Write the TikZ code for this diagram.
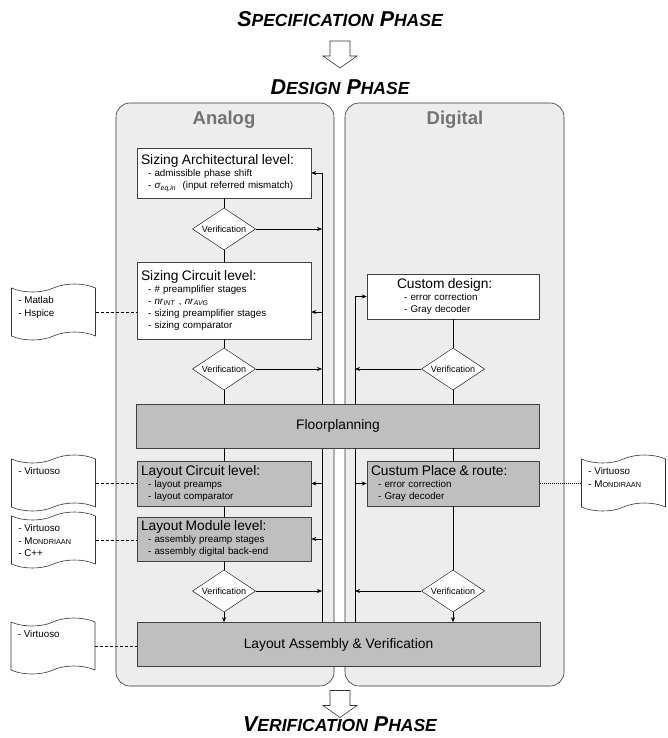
\documentclass[tikz,border=0pt]{standalone}
\usepackage{fontspec}
\setmainfont{Liberation Sans}
\usetikzlibrary{shapes.geometric,shapes.symbols,arrows.meta,positioning}

\newcommand{\hdr}{\fontsize{13.8}{15}\selectfont}
\newcommand{\itm}[1]{\hspace*{7pt}- #1}
\newcommand{\scsz}{\fontsize{17.5}{20}\selectfont}
\newcommand{\docsc}{\fontsize{7.3}{9}\selectfont}
\newcommand{\drawPhaseArrow}[2]{
    \draw[line width=0.6pt, draw=black!80, fill=white] (#1-10,#2-13.5) -- (#1+10,#2-13.5) -- (#1+10,#2+1.5) -- (#1+17,#2+1.5)
        -- (#1,#2+13.5) -- (#1-17,#2+1.5) -- (#1-10,#2+1.5) -- cycle;
}

\pgfdeclarelayer{panels}
\pgfdeclarelayer{wires}
\pgfsetlayers{panels,wires,main}

\begin{document}
\begin{tikzpicture}[x=1pt,y=-1pt,
    panel/.style={draw=black!80, fill=black!7, rounded corners=14pt, line width=0.6pt},
    wbox/.style={draw=black!75, fill=white, line width=0.6pt, minimum width=174pt, text width=166pt, inner xsep=4pt, align=left, font=\fontsize{9.8}{12}\selectfont},
    gbox/.style={wbox, fill=black!25},
    wide/.style={draw=black!75, fill=black!25, line width=0.6pt, minimum width=403pt, minimum height=44pt, font=\fontsize{13.8}{16}\selectfont},
    verif/.style={diamond, draw=black, fill=white, aspect=1.5, minimum width=63pt, minimum height=42pt, inner sep=0pt, font=\fontsize{9}{10}\selectfont},
    doc/.style={tape, draw=black!80, fill=white, line width=0.6pt, minimum width=84pt, minimum height=56pt, tape bend height=8pt},
    doctext/.style={align=left, inner sep=0pt, font=\fontsize{9.8}{12.5}\selectfont},
    phase/.style={font=\fontsize{21.5}{24}\selectfont\bfseries\itshape},
    col/.style={font=\fontsize{18.5}{20}\selectfont\bfseries, text=black!55},
    wire/.style={line width=0.6pt},
    arr/.style={-{Stealth[length=5pt,width=4pt]}}]
\useasboundingbox (0,0) rectangle (668,738);

% phases
\node[phase] (spec) at (340,19) {S{\scsz PECIFICATION} P{\scsz HASE}};
\drawPhaseArrow{340}{54.5}
\node[phase] (design) at (340,87.5) {D{\scsz ESIGN} P{\scsz HASE}};
\drawPhaseArrow{340}{704}
\node[phase] (verphase) at (340,724) {V{\scsz ERIFICATION} P{\scsz HASE}};

% panels
\begin{pgfonlayer}{panels}
\draw[panel] (116,103) rectangle (334,686);
\draw[panel] (345,103) rectangle (564,686);
\end{pgfonlayer}
\node[col] (analog) at (224,120) {Analog};
\node[col] (digital) at (455,120) {Digital};

% analog side
\node[wbox, minimum height=50pt] (sarch) at (224,173) {{\hdr Sizing Architectural level:}\\ \itm{admissible phase shift}\\ \itm{\textit{σ}\textsubscript{\textit{eq,in}}\ \ (input referred mismatch)}};
\node[verif] (v1) at (224,229) {Verification};
\node[wbox, minimum height=77pt] (scirc) at (224,300.5) {{\hdr Sizing Circuit level:}\\ \itm{\# preamplifier stages}\\ \itm{\textit{nr}\textsubscript{\textit{INT}} , \textit{nr}\textsubscript{\textit{AVG}}}\\ \itm{sizing preamplifier stages}\\ \itm{sizing comparator}};
\node[verif] (v2) at (224,369) {Verification};
\node[wide] (floor) at (338,426) {Floorplanning};
\node[gbox, minimum height=45pt] (lcirc) at (224,483.5) {{\hdr Layout Circuit level:}\\ \itm{layout preamps}\\ \itm{layout comparator}};
\node[gbox, minimum height=44pt] (lmod) at (224,539) {{\hdr Layout Module level:}\\ \itm{assembly preamp stages}\\ \itm{assembly digital back-end}};
\node[verif] (v3) at (224,591) {Verification};
\node[wide] (asm) at (338.5,644.5) {Layout Assembly \& Verification};

% digital side
\node[wbox, minimum width=172pt, text width=112pt, minimum height=45pt] (cust) at (453,296.5) {{\hdr Custom design:}\\ \itm{error correction}\\ \itm{Gray decoder}};
\node[verif] (vr2) at (453,369) {Verification};
\node[gbox, minimum width=172pt, text width=164pt, minimum height=45pt] (cpr) at (453,483.5) {{\hdr Custum Place \& route:}\\ \itm{error correction}\\ \itm{Gray decoder}};
\node[verif] (vr3) at (453,591) {Verification};

% tools
\node[doc] (d1) at (53.5,312) {};
\node[doctext, below right=9pt and 7pt of d1.north west] (d1t) {- Matlab\\- Hspice};
\node[doc] (d2) at (53.5,483) {};
\node[doctext, below right=9pt and 7pt of d2.north west] (d2t) {- Virtuoso};
\node[doc] (d3) at (53.5,540) {};
\node[doctext, below right=9pt and 7pt of d3.north west] (d3t) {- Virtuoso\\- M{\docsc ONDRIAAN}\\- C++};
\node[doc] (d4) at (53,646) {};
\node[doctext, below right=9pt and 7pt of d4.north west] (d4t) {- Virtuoso};
\node[doc] (d5) at (623.5,483) {};
\node[doctext, below right=9pt and 7pt of d5.north west] (d5t) {- Virtuoso\\- M{\docsc ONDIRAAN}};

% feedback lines
\coordinate (fbA) at (322,0);
\coordinate (fbD) at (355,0);
\begin{pgfonlayer}{wires}
\draw[wire, arr] (asm.north -| fbA) -- (sarch.east -| fbA) -- (sarch.east);
\draw[wire, arr] (asm.north -| fbD) -- (cust.west -| fbD) -- (cust.west);
\end{pgfonlayer}
\foreach \v in {v1,v2,v3} \draw[wire, arr] (\v.east) -- (\v.east -| fbA);
\foreach \v in {vr2,vr3} \draw[wire, arr] (\v.west) -- (\v.west -| fbD);
\draw[wire, arr] (d1.east -| fbA) -- (d1.east -| scirc.east);
\foreach \b in {lcirc,lmod} \draw[wire, arr] (\b.east -| fbA) -- (\b.east);
\draw[wire, arr] (cpr.west -| fbD) -- (cpr.west);

% flow
\draw[wire] (sarch) -- (v1) -- (scirc) -- (v2) -- (v2 |- floor.north);
\draw[wire] (floor.south -| lcirc) -- (lcirc) -- (lmod) -- (v3);
\draw[wire, arr] (v3) -- (v3 |- asm.north);
\draw[wire] (cust) -- (vr2) -- (vr2 |- floor.north);
\draw[wire] (floor.south -| cpr) -- (cpr) -- (vr3);
\draw[wire, arr] (vr3) -- (vr3 |- asm.north);

% tool links
\foreach \d/\b in {d1/scirc,d2/lcirc,d3/lmod,d4/asm}
  \draw[wire, dash pattern=on 3pt off 2pt] (\d.east) -- (\d.east -| \b.west);
\draw[wire, dash pattern=on 1pt off 1pt] (d5.west) -- (d5.west -| cpr.east);
\end{tikzpicture}
\end{document}
